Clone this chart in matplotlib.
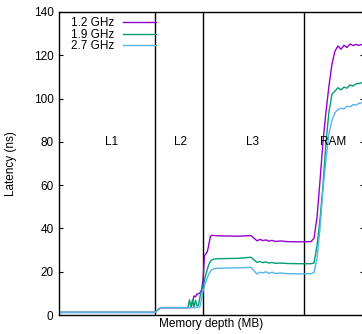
import numpy as np
import matplotlib
matplotlib.use('Agg')
import matplotlib.pyplot as plt

plt.rcParams['font.family'] = ['Liberation Sans', 'DejaVu Sans']

# Memory depth as log2(KB) -- converted to MB for plotting
depth_log2_kb = [-3, 5, 5.25, 5.5, 7.75, 7.875, 8.0, 8.125, 8.25, 8.375, 8.5, 8.625,
                 8.75, 8.875, 9.0, 9.125, 9.25, 9.375, 9.5, 9.625, 9.75, 10,
                 10.25, 11, 12, 13, 13.25, 13.5, 13.75, 14, 14.25, 14.5, 14.75, 15,
                 15.5, 16, 17, 18, 18.25, 18.5, 18.75, 19, 19.25, 19.5, 19.75, 20,
                 20.25, 20.5, 20.75, 21, 21.25, 21.5, 21.75, 22, 22.25]

lat_12ghz = [1.2, 1.2, 2.5, 3.4, 3.4, 3.4, 3.6, 6.0, 8.8, 8.4, 9.7, 9.8,
             10.3, 11.5, 16.0, 27.5, 28.3, 29.5, 33.0, 36.4, 36.8, 36.7,
             36.6, 36.5, 36.4, 36.7, 35.5, 34.3, 34.9, 34.4, 34.7, 34.1, 34.5, 34.0,
             34.2, 33.9, 33.8, 33.9, 35.5, 45.0, 62.0, 80.0, 94.0, 106.0, 116.0, 122.0,
             124.3, 122.8, 124.6, 123.6, 125.2, 124.5, 125.0, 124.6, 125.0]

lat_19ghz = [1.2, 1.2, 2.5, 3.4, 3.4, 7.0, 3.6, 7.0, 3.8, 6.8, 4.2, 4.5,
             8.5, 11.0, 13.5, 16.0, 19.0, 21.5, 23.5, 24.8, 25.5, 25.9,
             26.0, 26.1, 26.2, 26.7, 25.5, 24.3, 24.7, 24.2, 24.5, 24.0, 24.3, 23.9,
             24.0, 23.8, 23.7, 23.7, 24.0, 32.0, 44.0, 60.0, 80.0, 94.0, 102.0, 103.5,
             105.0, 104.0, 105.3, 104.8, 106.3, 105.8, 106.8, 107.0, 107.3]

lat_27ghz = [1.2, 1.2, 2.5, 3.4, 3.4, 3.4, 3.4, 3.4, 3.4, 3.4, 3.5, 3.5,
             3.8, 7.5, 11.0, 13.5, 15.5, 17.5, 19.0, 20.3, 21.0, 21.5,
             21.6, 21.7, 21.8, 22.0, 20.5, 18.9, 19.8, 19.4, 20.0, 19.2, 19.8, 19.2,
             19.4, 19.1, 19.0, 19.1, 19.6, 26.0, 40.0, 58.0, 72.0, 84.0, 90.0, 93.5,
             95.0, 95.5, 95.2, 96.5, 96.2, 97.2, 97.0, 97.8, 98.1]

series_labels = ['1.2 GHz', '1.9 GHz', '2.7 GHz']
series_colors = ['#9400d3', '#009e73', '#56b4e9']

# cache level boundaries and region labels (log2 KB)
boundaries_log2_kb = [5, 9, 17.45]
region_names = ['L1', 'L2', 'L3', 'RAM']
region_pos_log2_kb = [1.4, 7.1, 13.15, 19.85]
region_label_y = 80

def to_mb(v):
    return 2.0 ** np.asarray(v, dtype=float) / 1024

W, H = 362, 334
FS = 8.5
fig = plt.figure(figsize=(W / 100, H / 100), dpi=100)
ax = fig.add_axes([59 / W, (H - 315) / H, (363.5 - 59) / W, (315 - 12) / H])

x = to_mb(depth_log2_kb)
for y, lab, col in zip([lat_12ghz, lat_19ghz, lat_27ghz], series_labels, series_colors):
    ax.plot(x, y, color=col, lw=1.0, label=lab)

for b in to_mb(boundaries_log2_kb):
    ax.axvline(b, color='black', lw=1.0, zorder=1)

for name, p in zip(region_names, to_mb(region_pos_log2_kb)):
    ax.text(p, region_label_y, name, ha='center', va='center', fontsize=FS)

ax.set_xscale('log', base=2)
ax.set_xlim(to_mb(-3), to_mb(22.25 + 1.5 / 12))
ax.set_ylim(0, 140)
ax.set_yticks(np.arange(0, 141, 20))
ax.tick_params(axis='y', which='both', direction='in', length=3, width=0.8,
               left=True, right=True, labelsize=FS, pad=4)
ax.tick_params(axis='x', which='both', length=0, labelbottom=False)

for s in ax.spines.values():
    s.set_linewidth(1.0)
    s.set_color('black')

ax.set_xlabel('Memory depth (MB)', fontsize=FS, labelpad=2)
ax.set_ylabel('Latency (ns)', fontsize=FS, labelpad=12)

ax.legend(loc='upper right', bbox_to_anchor=((156 - 59) / 304.5, (315 - 17.5) / 303),
          markerfirst=False, frameon=False, fontsize=FS, handlelength=2.8,
          handletextpad=0.7, labelspacing=-0.05, borderpad=0, borderaxespad=0)

fig.savefig('out.png', dpi=100)
